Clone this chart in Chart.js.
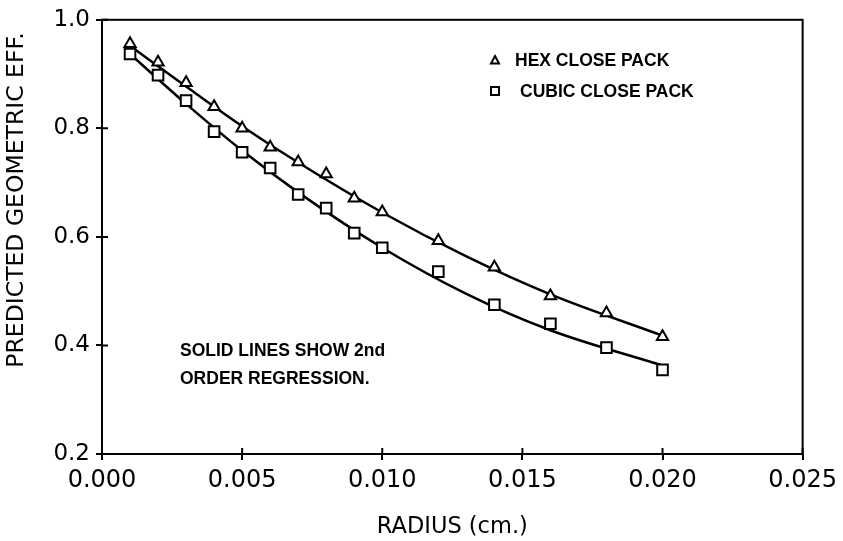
<!DOCTYPE html>
<html>
<head>
<meta charset="utf-8">
<script src="https://cdn.jsdelivr.net/npm/chart.js@4.4.0/dist/chart.umd.min.js"></script>
<style>
  html, body { margin: 0; padding: 0; background: #fff; }
  #wrap { width: 843px; height: 541px; }
</style>
</head>
<body>
<div id="wrap"><canvas id="myChart" width="843" height="541"></canvas></div>
<script>
// measured points (radius in cm)
const radius = [0.001, 0.002, 0.003, 0.004, 0.005, 0.006, 0.007, 0.008, 0.009, 0.010, 0.012, 0.014, 0.016, 0.018, 0.020];
const hexEff = [0.956, 0.922, 0.884, 0.840, 0.800, 0.765, 0.738, 0.716, 0.671, 0.646, 0.593, 0.544, 0.491, 0.460, 0.416];
const cubicEff = [0.937, 0.898, 0.851, 0.794, 0.756, 0.727, 0.678, 0.653, 0.607, 0.580, 0.536, 0.475, 0.440, 0.396, 0.355];

// regression lines
const fitRadius = [0.001, 0.003, 0.005, 0.007, 0.010, 0.013, 0.016, 0.020];
const hexFit = [0.952, 0.877, 0.804, 0.737, 0.645, 0.564, 0.494, 0.418];
const cubicFit = [0.937, 0.845, 0.759, 0.682, 0.580, 0.495, 0.428, 0.363];

const xTicks = [0.000, 0.005, 0.010, 0.015, 0.020, 0.025];
const yTicks = [0.2, 0.4, 0.6, 0.8, 1.0];

function pts(xs, ys) {
  return xs.map((x, i) => ({ x: x, y: ys[i] }));
}

// frame, inner tick halves, y title, legend and note
const extras = {
  id: 'extras',
  afterDraw(chart) {
    const ctx = chart.ctx;
    const a = chart.chartArea;
    const xs = chart.scales.x, ys = chart.scales.y;
    ctx.save();
    ctx.strokeStyle = '#000';
    ctx.lineWidth = 2;
    ctx.strokeRect(a.left, a.top, a.right - a.left, a.bottom - a.top);

    // tick marks reach into the plot too
    ctx.beginPath();
    xTicks.forEach(v => {
      const px = xs.getPixelForValue(v);
      ctx.moveTo(px, a.bottom);
      ctx.lineTo(px, a.bottom - 6);
    });
    yTicks.forEach(v => {
      const py = ys.getPixelForValue(v);
      ctx.moveTo(a.left, py);
      ctx.lineTo(a.left + 6, py);
    });
    ctx.stroke();

    // y title
    ctx.fillStyle = '#000';
    ctx.font = '23.5px "DejaVu Sans"';
    ctx.textAlign = 'center';
    ctx.textBaseline = 'middle';
    ctx.translate(17, 200);
    ctx.rotate(-Math.PI / 2);
    ctx.fillText('PREDICTED GEOMETRIC EFF.', 0, 0);
    ctx.setTransform(1, 0, 0, 1, 0, 0);

    // legend
    ctx.lineWidth = 2;
    ctx.beginPath();
    ctx.moveTo(495, 56);
    ctx.lineTo(499, 63.5);
    ctx.lineTo(491, 63.5);
    ctx.closePath();
    ctx.stroke();
    ctx.strokeRect(491, 87, 8, 8);
    ctx.font = 'bold 17.5px "Liberation Sans"';
    ctx.textAlign = 'left';
    ctx.textBaseline = 'alphabetic';
    ctx.fillText(chart.data.datasets[0].label, 515, 66);
    ctx.fillText(chart.data.datasets[1].label, 520, 97);

    // note
    ctx.font = 'bold 17.5px "Liberation Sans"';
    ctx.fillText('SOLID LINES SHOW 2nd', 180, 356);
    ctx.fillText('ORDER REGRESSION.', 180, 384);
    ctx.restore();
  }
};

const ctx = document.getElementById('myChart').getContext('2d');

new Chart(ctx, {
  type: 'scatter',
  data: {
    datasets: [
      {
        label: 'HEX CLOSE PACK',
        data: pts(radius, hexEff),
        pointStyle: 'triangle',
        pointRadius: 6.5,
        borderColor: '#000',
        backgroundColor: '#fff',
        borderWidth: 2
      },
      {
        label: 'CUBIC CLOSE PACK',
        data: pts(radius, cubicEff),
        pointStyle: 'rect',
        pointRadius: 7.5,
        borderColor: '#000',
        backgroundColor: '#fff',
        borderWidth: 2
      },
      {
        label: 'hex fit',
        data: pts(fitRadius, hexFit),
        showLine: true,
        pointRadius: 0,
        borderColor: '#000',
        borderWidth: 2.5,
        cubicInterpolationMode: 'monotone'
      },
      {
        label: 'cubic fit',
        data: pts(fitRadius, cubicFit),
        showLine: true,
        pointRadius: 0,
        borderColor: '#000',
        borderWidth: 2.5,
        cubicInterpolationMode: 'monotone'
      }
    ]
  },
  options: {
    responsive: false,
    animation: false,
    layout: { padding: { left: 0, right: 37, top: 15, bottom: 0 } },
    plugins: {
      legend: { display: false },
      tooltip: { enabled: false }
    },
    scales: {
      x: {
        type: 'linear',
        min: 0,
        max: 0.025,
        afterBuildTicks: s => { s.ticks = xTicks.map(v => ({ value: v })); },
        afterFit: s => { s.height = 87; },
        ticks: {
          color: '#000',
          font: { family: 'DejaVu Sans', size: 24 },
          padding: 6,
          maxRotation: 0,
          callback: v => v.toFixed(3)
        },
        grid: { drawOnChartArea: false, drawTicks: true, tickLength: 6, color: '#000', lineWidth: 2 },
        border: { color: '#000', width: 2 },
        title: {
          display: true,
          text: 'RADIUS (cm.)',
          color: '#000',
          font: { family: 'DejaVu Sans', size: 22.5 },
          padding: { top: 10, bottom: 0 }
        }
      },
      y: {
        min: 0.2,
        max: 1.0,
        afterBuildTicks: s => { s.ticks = yTicks.map(v => ({ value: v })); },
        afterFit: s => { s.width = 102; },
        ticks: {
          color: '#000',
          font: { family: 'DejaVu Sans', size: 23 },
          padding: 6,
          callback: v => v.toFixed(1)
        },
        grid: { drawOnChartArea: false, drawTicks: true, tickLength: 6, color: '#000', lineWidth: 2 },
        border: { color: '#000', width: 2 }
      }
    }
  },
  plugins: [extras]
});
</script>
</body>
</html>
